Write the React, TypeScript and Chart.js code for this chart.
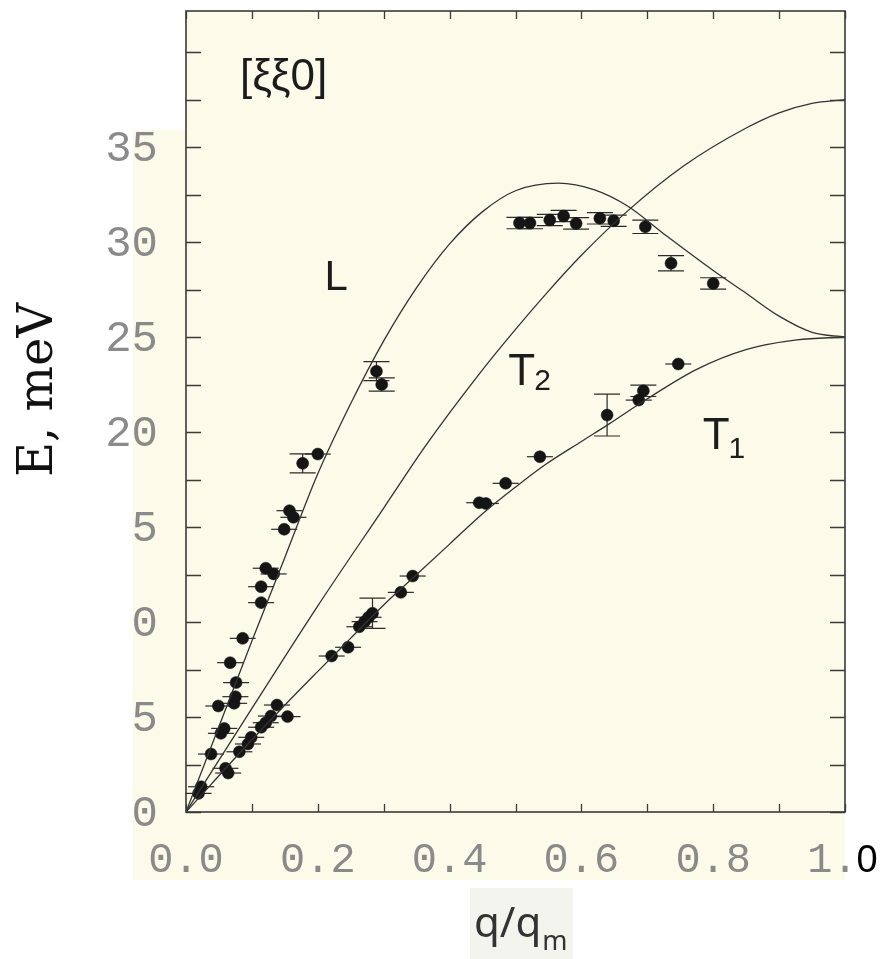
import { useEffect, useRef } from 'react';
import { Chart, registerables } from 'chart.js';

Chart.register(...registerables);

// Dispersion curves (q/q_m, E in meV)
const L_CURVE_Q = [0, 0.05, 0.1, 0.15, 0.2, 0.25, 0.3, 0.35, 0.4, 0.45, 0.5, 0.565, 0.62, 0.67, 0.73, 0.8, 0.85, 0.9, 0.95, 1.0];
const L_CURVE_E = [0, 4.5, 9.0, 13.4, 17.8, 21.5, 24.8, 27.6, 29.9, 31.6, 32.7, 33.1, 32.75, 31.9, 30.3, 28.5, 27.3, 26.1, 25.25, 25.0];

const T2_CURVE_Q = [0, 0.1, 0.2, 0.3, 0.364, 0.446, 0.5, 0.547, 0.6, 0.669, 0.755, 0.85, 0.9, 0.95, 1.0];
const T2_CURVE_E = [0, 5.45, 10.85, 16.0, 19.3, 23.1, 25.4, 27.3, 29.3, 31.6, 34.0, 36.0, 36.8, 37.3, 37.5];

const T1_CURVE_Q = [0, 0.1, 0.152, 0.2, 0.25, 0.3, 0.35, 0.4, 0.45, 0.5, 0.546, 0.6, 0.641, 0.7, 0.775, 0.851, 0.927, 1.0];
const T1_CURVE_E = [0, 3.8, 5.7, 7.4, 9.15, 10.9, 12.5, 14.1, 15.7, 17.1, 18.3, 19.5, 20.4, 21.75, 23.3, 24.35, 24.85, 25.0];

// Measured points on the steep (L) branch
const L_PTS_Q = [0.019, 0.023, 0.038, 0.053, 0.058, 0.049, 0.073, 0.075, 0.076, 0.067, 0.086, 0.114, 0.114, 0.121, 0.133, 0.149, 0.157, 0.163, 0.177, 0.2, 0.289, 0.297];
const L_PTS_E = [0.98, 1.33, 3.05, 4.14, 4.4, 5.58, 5.72, 6.07, 6.81, 7.86, 9.14, 11.02, 11.86, 12.83, 12.53, 14.88, 15.86, 15.51, 18.35, 18.84, 23.2, 22.5];
const L_PTS_ERR = [0, 0, 0, 0, 0, 0, 0, 0, 0, 0, 0, 0, 0, 0, 0, 0, 0, 0, 0.5, 0, 0.5, 0.35];

// Measured points near the zone boundary
const ZB_PTS_Q = [0.506, 0.522, 0.552, 0.573, 0.592, 0.628, 0.649, 0.697, 0.736, 0.8];
const ZB_PTS_E = [31.0, 31.0, 31.16, 31.37, 30.98, 31.25, 31.12, 30.8, 28.88, 27.82];
const ZB_PTS_ERR = [0.3, 0.3, 0.3, 0.3, 0.3, 0.3, 0.3, 0.35, 0.4, 0.3];

// Measured points on the T1 branch
const T1_PTS_Q = [0.06, 0.064, 0.081, 0.094, 0.099, 0.114, 0.121, 0.129, 0.138, 0.154, 0.221, 0.246, 0.263, 0.271, 0.277, 0.283, 0.326, 0.344, 0.445, 0.455, 0.485, 0.537, 0.639, 0.687, 0.694, 0.747];
const T1_PTS_E = [2.3, 2.05, 3.17, 3.58, 3.93, 4.46, 4.7, 5.05, 5.63, 5.02, 8.21, 8.67, 9.75, 10.02, 10.25, 10.46, 11.56, 12.42, 16.28, 16.24, 17.3, 18.7, 20.89, 21.68, 22.17, 23.58];
const T1_PTS_ERR = [0, 0, 0, 0, 0, 0, 0, 0, 0, 0, 0, 0, 0, 0, 0, 0.8, 0, 0, 0, 0, 0, 0, 1.1, 0, 0.3, 0];

const X_TICK_VALUES = [0, 0.2, 0.4, 0.6, 0.8, 1.0];
const X_TICK_LABELS = ['0.0', '0.2', '0.4', '0.6', '0.8', '1.0'];
const Y_TICK_VALUES = [35, 30, 25, 20, 15, 10, 5, 0];
const Y_TICK_LABELS = ['35', '30', '25', '20', '15', '10', '5', '0'];

const Y_MAX = 42.16;
const CREAM = 'rgb(252, 251, 233)';
const INK = '#1c1c1c';
const TICK_GREY = '#8a8a8a';

const zip = (qs: number[], es: number[]) => qs.map((q, i) => ({ x: q, y: es[i] }));

const backdrop = {
  id: 'backdrop',
  beforeDraw(chart: any) {
    const { ctx, chartArea: a } = chart;
    ctx.save();
    ctx.fillStyle = '#ffffff';
    ctx.fillRect(0, 0, chart.width, chart.height);
    ctx.fillStyle = CREAM;
    // margin panel holding the tick labels
    ctx.fillRect(133, 130, a.right - 133, 750);
    ctx.fillRect(a.left, a.top, a.right - a.left, a.bottom - a.top);
    // panel behind the x-axis title
    ctx.fillStyle = '#f4f4ef';
    ctx.fillRect(470, 888, 103, 71);
    ctx.restore();
  },
};

const CAP = 13;
const errorBars = {
  id: 'errorBars',
  beforeDatasetsDraw(chart: any) {
    const { ctx, scales: { x, y } } = chart;
    ctx.save();
    ctx.strokeStyle = '#2a2a2a';
    ctx.lineWidth = 1.2;
    chart.data.datasets.forEach((ds: any) => {
      if (!ds.errE) return;
      ds.data.forEach((p: any, i: number) => {
        const px = x.getPixelForValue(p.x);
        const e = ds.errE[i];
        const yt = y.getPixelForValue(p.y + e);
        const yb = y.getPixelForValue(p.y - e);
        ctx.beginPath();
        if (e > 0) {
          ctx.moveTo(px, yt);
          ctx.lineTo(px, yb);
          ctx.moveTo(px - CAP, yb);
          ctx.lineTo(px + CAP, yb);
        }
        ctx.moveTo(px - CAP, yt);
        ctx.lineTo(px + CAP, yt);
        ctx.stroke();
      });
    });
    ctx.restore();
  },
};

const frameAndText = {
  id: 'frameAndText',
  afterDraw(chart: any) {
    const { ctx, chartArea: a, scales: { x, y } } = chart;
    ctx.save();

    // frame
    ctx.strokeStyle = '#3a3a3a';
    ctx.lineWidth = 1.6;
    ctx.strokeRect(a.left, a.top, a.right - a.left, a.bottom - a.top);

    // inward tick marks on all four sides
    ctx.lineWidth = 1.3;
    ctx.beginPath();
    for (let v = 0; v <= Y_MAX + 1e-6; v += 2.5) {
      const py = Math.round(y.getPixelForValue(v)) + 0.5;
      ctx.moveTo(a.left, py);
      ctx.lineTo(a.left + 15, py);
      ctx.moveTo(a.right, py);
      ctx.lineTo(a.right - 15, py);
    }
    for (let i = 0; i <= 10; i++) {
      const px = Math.round(x.getPixelForValue(i / 10)) + 0.5;
      ctx.moveTo(px, a.bottom);
      ctx.lineTo(px, a.bottom - 8);
      ctx.moveTo(px, a.top);
      ctx.lineTo(px, a.top + 8);
    }
    ctx.stroke();

    // y tick labels; the lower ones are cut by the edge of the margin panel
    ctx.fillStyle = TICK_GREY;
    ctx.font = '44px "Liberation Mono"';
    ctx.textAlign = 'right';
    ctx.textBaseline = 'middle';
    Y_TICK_VALUES.forEach((v, i) => {
      const py = y.getPixelForValue(v);
      ctx.save();
      if (v < 17.5) {
        ctx.beginPath();
        ctx.rect(133, 0, chart.width, chart.height);
        ctx.clip();
      }
      ctx.fillText(Y_TICK_LABELS[i], 158, py + 2);
      ctx.restore();
    });

    // x tick labels
    ctx.font = '42px "Liberation Mono"';
    ctx.textAlign = 'center';
    ctx.textBaseline = 'alphabetic';
    X_TICK_VALUES.forEach((v, i) => {
      const px = x.getPixelForValue(v);
      const label = X_TICK_LABELS[i];
      if (i === X_TICK_VALUES.length - 1) {
        // last label: final digit set in black
        ctx.textAlign = 'left';
        const w = ctx.measureText(label).width;
        const head = label.slice(0, -1);
        ctx.fillStyle = TICK_GREY;
        ctx.fillText(head, px - w / 2, 872);
        const hw = ctx.measureText(head).width;
        ctx.fillStyle = '#000';
        ctx.font = '38px "Liberation Sans"';
        ctx.fillText(label.slice(-1), px - w / 2 + hw - 1, 872);
        ctx.font = '42px "Liberation Mono"';
        ctx.textAlign = 'center';
      } else {
        ctx.fillStyle = TICK_GREY;
        ctx.fillText(label, px, 872);
      }
    });

    // axis titles
    ctx.fillStyle = '#111';
    ctx.save();
    ctx.translate(52, 390);
    ctx.rotate(-Math.PI / 2);
    ctx.font = '48px "DejaVu Serif"';
    ctx.textAlign = 'center';
    ctx.textBaseline = 'alphabetic';
    ctx.fillText('E, meV', 0, 0);
    ctx.restore();

    ctx.fillStyle = '#333';
    ctx.textAlign = 'left';
    ctx.font = '42px "Noto Sans"';
    ctx.fillText('q/q', 474, 937);
    const qw = ctx.measureText('q/q').width;
    ctx.font = '27px "Noto Sans"';
    ctx.fillText('m', 474 + qw + 1, 950);

    // branch labels
    ctx.fillStyle = INK;
    ctx.font = '44px "Liberation Sans"';
    ctx.fillText('[ξξ0]', x.getPixelForValue(0.082), y.getPixelForValue(38.0));

    ctx.font = '42px "Liberation Sans"';
    ctx.textAlign = 'center';
    ctx.fillText('L', x.getPixelForValue(0.228), y.getPixelForValue(27.47));

    ctx.textAlign = 'left';
    const sub = (main: string, s: string, q: number, e: number, drop: number) => {
      const px = x.getPixelForValue(q);
      const py = y.getPixelForValue(e);
      ctx.font = '44px "Liberation Sans"';
      ctx.fillText(main, px, py);
      const w = ctx.measureText(main).width;
      ctx.font = '30px "Liberation Sans"';
      ctx.fillText(s, px + w - 1, py + drop);
    };
    sub('T', '2', 0.489, 22.47, 5);
    sub('T', '1', 0.784, 19.1, 9);

    ctx.restore();
  },
};

export default function App() {
  const ref = useRef<HTMLCanvasElement | null>(null);

  useEffect(() => {
    if (!ref.current) return;
    const curve = (qs: number[], es: number[]) => ({
      data: zip(qs, es),
      showLine: true,
      borderColor: '#333333',
      borderWidth: 1.3,
      pointRadius: 0,
      cubicInterpolationMode: 'monotone' as const,
      fill: false,
    });
    const points = (qs: number[], es: number[], err: number[]) => ({
      data: zip(qs, es),
      errE: err,
      showLine: false,
      pointRadius: 6,
      pointBackgroundColor: '#151515',
      pointBorderColor: '#151515',
      pointBorderWidth: 0.5,
    });
    const chart = new Chart(ref.current, {
      type: 'scatter',
      data: {
        datasets: [
          curve(L_CURVE_Q, L_CURVE_E),
          curve(T2_CURVE_Q, T2_CURVE_E),
          curve(T1_CURVE_Q, T1_CURVE_E),
          points(L_PTS_Q, L_PTS_E, L_PTS_ERR) as any,
          points(ZB_PTS_Q, ZB_PTS_E, ZB_PTS_ERR) as any,
          points(T1_PTS_Q, T1_PTS_E, T1_PTS_ERR) as any,
        ],
      },
      options: {
        responsive: false,
        animation: false,
        layout: { padding: { left: 186, top: 11, right: 39, bottom: 147 } },
        plugins: { legend: { display: false }, tooltip: { enabled: false } },
        scales: {
          x: { type: 'linear', min: 0, max: 1, display: false },
          y: { type: 'linear', min: 0, max: Y_MAX, display: false },
        },
      },
      plugins: [backdrop, errorBars, frameAndText],
    });
    return () => chart.destroy();
  }, []);

  return (
    <div style={{ position: 'absolute', left: 0, top: 0, width: 884, height: 959 }}>
      <canvas ref={ref} width={884} height={959} style={{ display: 'block' }} />
    </div>
  );
}
